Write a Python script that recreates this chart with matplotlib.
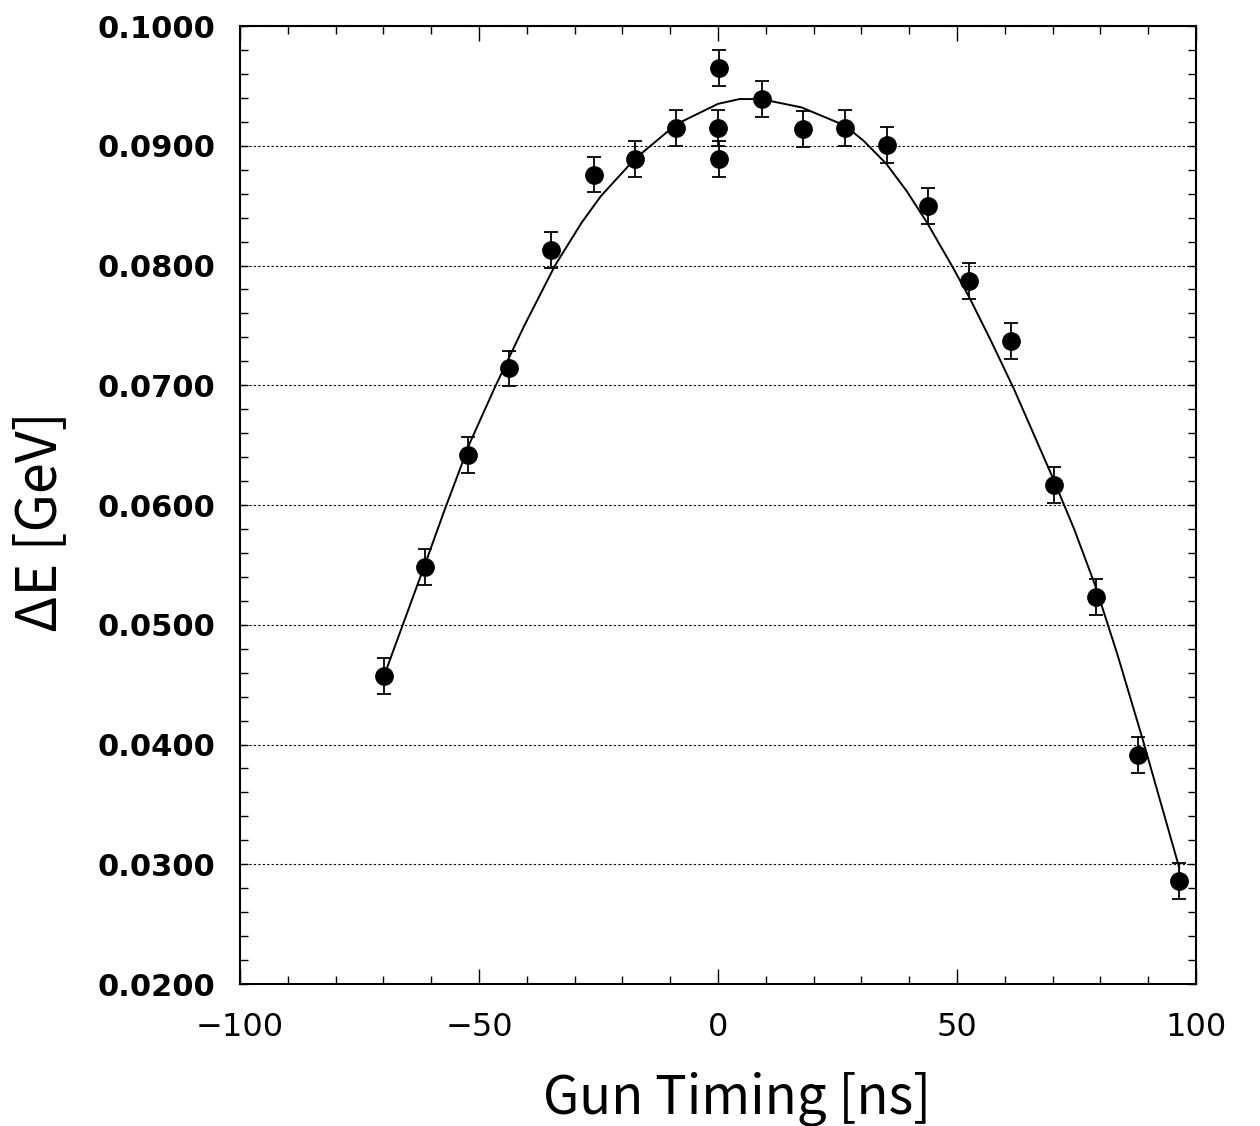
import numpy as np
import matplotlib
matplotlib.use("Agg")
from matplotlib import pyplot as plt
from matplotlib.ticker import MultipleLocator, FormatStrFormatter

# Messpunkte
gun_timing = [-69.9, -61.2, -52.3, -43.7, -35.0, -26.0, -17.4, -8.7, 0.2, 0.1, 0.2,
              9.1, 17.7, 26.5, 35.3, 43.9, 52.6, 61.4, 70.2, 79.0, 87.8, 96.5]
delta_e = [0.0457, 0.0548, 0.0642, 0.0714, 0.0813, 0.0876, 0.0889, 0.0915, 0.0965, 0.0915, 0.0889,
           0.0939, 0.0914, 0.0915, 0.0901, 0.0850, 0.0787, 0.0737, 0.0617, 0.0523, 0.0391, 0.0286]
delta_e_err = [0.0015] * len(delta_e)

fit_x = [-69.9, -60.8, -57.1, -51.9, -46.6, -40.5, -34.1, -28.5, -24.5, -17.4, -8.7, 0.0, 4.5,
         9.0, 17.5, 26.5, 30.5, 35.2, 39.5, 43.7, 48.9, 52.5, 57.0, 61.9, 69.9, 74.5, 78.9,
         83.5, 88.8, 96.5]
fit_y = [0.0457, 0.0556, 0.0597, 0.0652, 0.0699, 0.0750, 0.0800, 0.0836, 0.0858, 0.0889, 0.0918, 0.0935, 0.0939,
         0.0939, 0.0932, 0.0917, 0.0904, 0.0885, 0.0862, 0.0836, 0.0800, 0.0774, 0.0738, 0.0697, 0.0624, 0.0580, 0.0533,
         0.0476, 0.0405, 0.0297]

fig = plt.figure(figsize=(12.6, 11.26), dpi=100)
ax = fig.add_axes([0.1905, 0.1261, 0.7587, 0.8508])

ax.plot(fit_x, fit_y, color="black", lw=1.4, zorder=2)
ax.errorbar(gun_timing, delta_e, yerr=delta_e_err, fmt="o", color="black",
            markersize=12.5, elinewidth=1.3, capsize=5, capthick=1.3, zorder=3)

ax.set_xlim(-100, 100)
ax.set_ylim(0.02, 0.10)
ax.xaxis.set_major_locator(MultipleLocator(50))
ax.xaxis.set_minor_locator(MultipleLocator(10))
ax.yaxis.set_major_locator(MultipleLocator(0.01))
ax.yaxis.set_minor_locator(MultipleLocator(0.002))
ax.yaxis.set_major_formatter(FormatStrFormatter("%.4f"))

ax.grid(axis="y", which="major", linestyle=(0, (2, 2)), color="black", lw=0.8)

ax.tick_params(axis="both", which="both", direction="in", top=True, right=True, width=1.0)
ax.tick_params(axis="x", which="major", length=11, pad=20, labelsize=23)
ax.tick_params(axis="x", which="minor", length=5.5)
ax.tick_params(axis="y", which="major", length=6, pad=18, labelsize=22)
ax.tick_params(axis="y", which="minor", length=6)
for lbl in ax.get_yticklabels():
    lbl.set_fontweight("bold")

for sp in ax.spines.values():
    sp.set_linewidth(1.5)

fig.text(737 / 1260, 1 - 1098 / 1126, "Gun Timing [ns]", ha="center", va="center",
         fontsize=38, family=["Noto Sans CJK JP", "DejaVu Sans"])
fig.text(40 / 1260, 1 - 522 / 1126, "ΔE [GeV]", ha="center", va="center",
         rotation=90, fontsize=40, family=["Noto Sans CJK JP", "DejaVu Sans"])

fig.savefig("out.png", dpi=100)
